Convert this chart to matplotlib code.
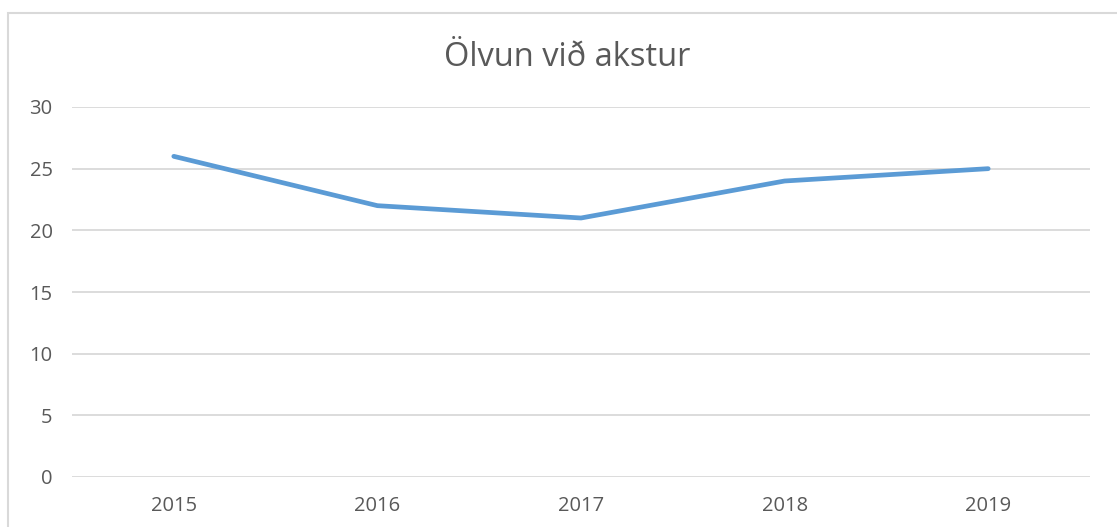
import matplotlib
matplotlib.use("Agg")
import matplotlib.pyplot as plt
from matplotlib.patches import Rectangle

years = ["2015", "2016", "2017", "2018", "2019"]
values = [26, 22, 21, 24, 25]
yticks = [0, 5, 10, 15, 20, 25, 30]
title = "Ölvun við akstur"

W, H = 1117, 527
fig = plt.figure(figsize=(W / 100, H / 100), dpi=100)
fig.patch.set_facecolor("white")

# chart border (cropped on right and bottom)
fig.patches.append(Rectangle((8 / W, -0.05), 1.2, 1.05 - 13 / H,
                             transform=fig.transFigure, fill=False,
                             edgecolor="#D9D9D9", linewidth=1.5))

left, right = 72 / W, 1090 / W
bottom, top = 1 - 477 / H, 1 - 107 / H
ax = fig.add_axes([left, bottom, right - left, top - bottom])

x = list(range(len(years)))
ax.plot(x, values, color="#5B9BD5", linewidth=3.4, solid_capstyle="round",
        solid_joinstyle="round", zorder=3)

ax.set_xlim(-0.5, len(years) - 0.5)
ax.set_ylim(0, 30)
ax.set_yticks(yticks)
ax.set_xticks(x)
ax.set_xticklabels(years)
ax.grid(axis="y", color="#D9D9D9", linewidth=1.3)
ax.set_axisbelow(True)
for s in ax.spines.values():
    s.set_visible(False)
ax.tick_params(axis="both", length=0, labelsize=14.5, labelcolor="#595959")
ax.tick_params(axis="y", pad=14)
ax.tick_params(axis="x", pad=14)
for lbl in ax.get_xticklabels() + ax.get_yticklabels():
    lbl.set_fontfamily("Open Sans")

fig.text(567 / W, 1 - 58 / H, title, ha="center", va="center",
         fontsize=23.5, color="#595959", fontfamily="Open Sans")

fig.savefig("out.png", dpi=100, facecolor="white")
